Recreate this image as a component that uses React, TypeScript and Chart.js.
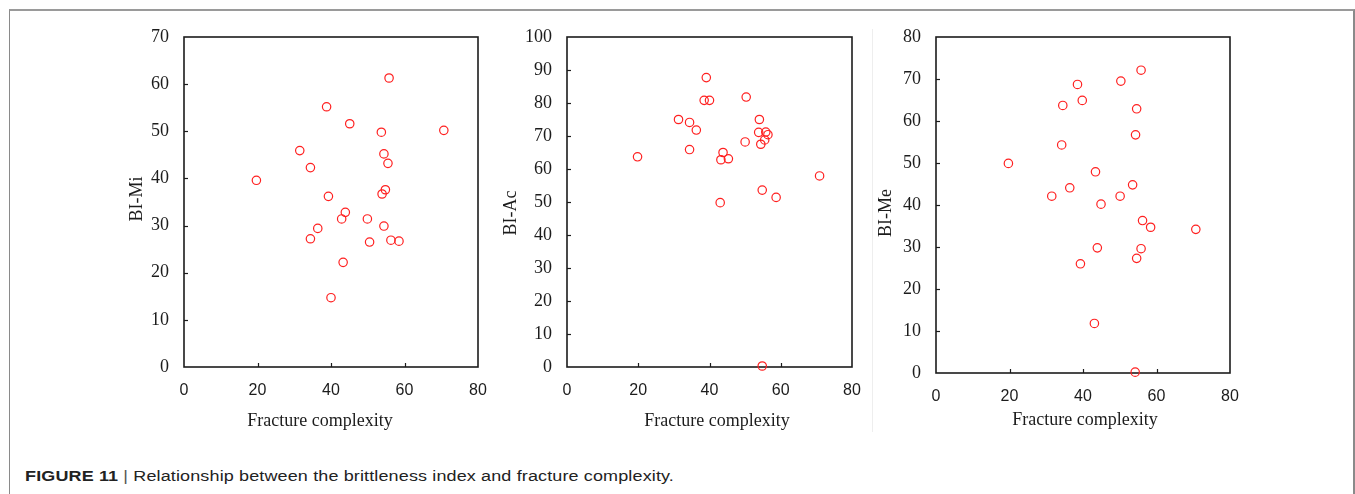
import React, { useEffect, useRef } from 'react';
import { Chart, registerables } from 'chart.js';

Chart.register(...registerables);

// ---- Data ----
const xTickValues = [0, 20, 40, 60, 80];

const fcMi = [55.8, 38.8, 45.1, 53.7, 70.7, 31.5, 54.4, 55.5, 34.4, 19.7, 39.3, 54.8, 53.9, 43.9, 42.9, 49.9, 36.4, 54.4, 34.4, 50.5, 56.3, 58.5, 43.3, 40.0];
const biMi = [61.3, 55.2, 51.6, 49.8, 50.2, 45.9, 45.2, 43.2, 42.3, 39.6, 36.2, 37.6, 36.7, 32.8, 31.4, 31.4, 29.4, 29.9, 27.2, 26.5, 26.9, 26.7, 22.2, 14.7];

const fcAc = [39.1, 38.5, 40.0, 50.3, 31.3, 34.4, 36.3, 54.0, 53.8, 55.8, 56.4, 55.5, 54.4, 50.0, 34.4, 19.8, 43.8, 43.2, 45.3, 70.9, 54.8, 58.7, 43.0, 54.8];
const biAc = [87.7, 80.8, 80.8, 81.8, 75.0, 74.1, 71.8, 75.0, 71.1, 71.2, 70.4, 68.8, 67.5, 68.2, 65.9, 63.7, 65.0, 62.8, 63.1, 57.9, 53.6, 51.4, 49.8, 0.3];

const fcMe = [55.8, 50.3, 38.5, 39.8, 34.5, 54.6, 54.3, 34.2, 19.7, 43.4, 53.5, 36.4, 31.5, 50.1, 44.9, 56.2, 58.4, 70.7, 43.9, 55.8, 54.6, 39.3, 43.1, 54.2];
const biMe = [72.1, 69.5, 68.7, 64.9, 63.7, 62.9, 56.7, 54.3, 49.9, 47.9, 44.8, 44.1, 42.1, 42.1, 40.2, 36.3, 34.7, 34.2, 29.8, 29.6, 27.3, 26.0, 11.8, 0.2];

const xAxisTitle = 'Fracture complexity';
const yAxisTitles = ['BI-Mi', 'BI-Ac', 'BI-Me'];
const yMaxes = [70, 100, 80];
const captionBold = 'FIGURE 11';
const captionText = 'Relationship between the brittleness index and fracture complexity.';

// ---- Layout ----
const CANVAS_TOP = 20;
const CANVAS_BOTTOM = 440;
const Y_AXIS_W = 70;
const RIGHT_PAD = 12;

type PanelCfg = {
  xs: number[];
  ys: number[];
  yTitle: string;
  yMax: number;
  plot: { l: number; r: number; t: number; b: number };
  xTitleOff: { dx: number; dy: number };
  yTitleOff: { dx: number; dy: number };
};

const panels: PanelCfg[] = [
  { xs: fcMi, ys: biMi, yTitle: yAxisTitles[0], yMax: yMaxes[0], plot: { l: 184, r: 478, t: 37, b: 367 }, xTitleOff: { dx: -11, dy: 54 }, yTitleOff: { dx: -47, dy: -3 } },
  { xs: fcAc, ys: biAc, yTitle: yAxisTitles[1], yMax: yMaxes[1], plot: { l: 567, r: 852, t: 37, b: 367 }, xTitleOff: { dx: 7.5, dy: 54 }, yTitleOff: { dx: -55.5, dy: 11 } },
  { xs: fcMe, ys: biMe, yTitle: yAxisTitles[2], yMax: yMaxes[2], plot: { l: 936, r: 1230, t: 37, b: 373 }, xTitleOff: { dx: 2, dy: 47 }, yTitleOff: { dx: -50, dy: 8 } },
];

const INK = '#1c1c1c';

const framePlugin = {
  id: 'frameTicks',
  beforeDatasetsDraw(chart: any) {
    const { ctx, chartArea: a, scales } = chart;
    ctx.save();
    ctx.strokeStyle = INK;
    ctx.lineWidth = 1.6;
    ctx.strokeRect(a.left, a.top, a.right - a.left, a.bottom - a.top);
    ctx.lineWidth = 1.2;
    const xs = scales.x;
    xs.ticks.forEach((t: any) => {
      if (t.value > xs.min && t.value < xs.max) {
        const px = Math.round(xs.getPixelForValue(t.value)) + 0.5;
        ctx.beginPath();
        ctx.moveTo(px, a.bottom);
        ctx.lineTo(px, a.bottom - 4);
        ctx.stroke();
      }
    });
    const ys = scales.y;
    ys.ticks.forEach((t: any) => {
      if (t.value > ys.min && t.value < ys.max) {
        const py = Math.round(ys.getPixelForValue(t.value)) + 0.5;
        ctx.beginPath();
        ctx.moveTo(a.left, py);
        ctx.lineTo(a.left + 4, py);
        ctx.stroke();
      }
    });
    ctx.restore();
  },
  afterDraw(chart: any, _args: any, opts: any) {
    const { ctx, chartArea: a } = chart;
    ctx.save();
    ctx.fillStyle = INK;
    ctx.font = '18px "Liberation Serif", "Times New Roman", serif';
    ctx.textAlign = 'center';
    ctx.textBaseline = 'middle';
    ctx.fillText(opts.xTitle, (a.left + a.right) / 2 + opts.xTitleOff.dx, a.bottom + opts.xTitleOff.dy);
    ctx.translate(a.left + opts.yTitleOff.dx, (a.top + a.bottom) / 2 + opts.yTitleOff.dy);
    ctx.rotate(-Math.PI / 2);
    ctx.fillText(opts.yTitle, 0, 0);
    ctx.restore();
  },
};

const zeroPad = (s: any) => {
  s.paddingLeft = 0;
  s.paddingRight = 0;
  s.paddingTop = 0;
  s.paddingBottom = 0;
};

function Panel({ cfg }: { cfg: PanelCfg }) {
  const ref = useRef<HTMLCanvasElement | null>(null);
  const left = cfg.plot.l - Y_AXIS_W;
  const width = cfg.plot.r + RIGHT_PAD - left;
  const height = CANVAS_BOTTOM - CANVAS_TOP;

  useEffect(() => {
    if (!ref.current) return;
    const chart = new Chart(ref.current, {
      type: 'scatter',
      data: {
        datasets: [
          {
            data: cfg.xs.map((x, i) => ({ x, y: cfg.ys[i] })),
            pointRadius: 4.2,
            pointHoverRadius: 4.2,
            pointBorderWidth: 1.2,
            pointBorderColor: '#ff2020',
            pointBackgroundColor: 'rgba(0,0,0,0)',
            showLine: false,
            clip: false,
          } as any,
        ],
      },
      options: {
        responsive: false,
        animation: false,
        devicePixelRatio: 1,
        events: [],
        layout: { padding: { top: cfg.plot.t - CANVAS_TOP, right: RIGHT_PAD, left: 0, bottom: 0 } },
        plugins: {
          legend: { display: false },
          tooltip: { enabled: false },
          frameTicks: { xTitle: xAxisTitle, yTitle: cfg.yTitle, xTitleOff: cfg.xTitleOff, yTitleOff: cfg.yTitleOff },
        } as any,
        scales: {
          x: {
            type: 'linear',
            min: 0,
            max: 80,
            afterBuildTicks: (s: any) => {
              s.ticks = xTickValues.map((v) => ({ value: v }));
            },
            ticks: {
              padding: 14,
              color: INK,
              maxRotation: 0,
              font: { family: '"Liberation Sans", Arial, sans-serif', size: 16 },
            },
            grid: { display: false, drawTicks: false },
            border: { display: false },
            afterFit: (s: any) => {
              s.height = CANVAS_BOTTOM - cfg.plot.b;
              zeroPad(s);
            },
          },
          y: {
            type: 'linear',
            min: 0,
            max: cfg.yMax,
            ticks: {
              stepSize: 10,
              padding: 15,
              color: INK,
              font: { family: '"Liberation Serif", "Times New Roman", serif', size: 18 },
            },
            grid: { display: false, drawTicks: false },
            border: { display: false },
            afterFit: (s: any) => {
              s.width = Y_AXIS_W;
              zeroPad(s);
            },
          },
        },
      },
      plugins: [framePlugin],
    });
    return () => chart.destroy();
  }, []);

  return (
    <canvas
      ref={ref}
      width={width}
      height={height}
      style={{ position: 'absolute', left, top: CANVAS_TOP, width, height }}
    />
  );
}

export default function App() {
  return (
    <div style={{ position: 'absolute', left: 0, top: 0, width: 1355, height: 494, background: '#fff', overflow: 'hidden' }}>
      <div
        style={{
          position: 'absolute',
          left: 9,
          top: 9,
          width: 1343,
          height: 500,
          borderTop: '2px solid #9a9a9a',
          borderLeft: '1.5px solid #8a8a8a',
          borderRight: '2px solid #8a8a8a',
        }}
      />
      <div style={{ position: 'absolute', left: 872, top: 29, width: 1, height: 403, background: '#eeeeee' }} />
      {panels.map((p, i) => (
        <Panel key={i} cfg={p} />
      ))}
      <div
        style={{
          position: 'absolute',
          left: 25,
          top: 465,
          whiteSpace: 'nowrap',
          fontFamily: '"Liberation Sans", Arial, sans-serif',
          fontSize: 18,
          lineHeight: '22px',
          letterSpacing: '0.13px',
          color: '#222',
          transform: 'scaleY(0.85)',
          transformOrigin: 'left center',
        }}
      >
        <span style={{ fontWeight: 700 }}>{captionBold}</span>
        <span style={{ color: '#555' }}> | </span>
        <span>{captionText}</span>
      </div>
    </div>
  );
}
